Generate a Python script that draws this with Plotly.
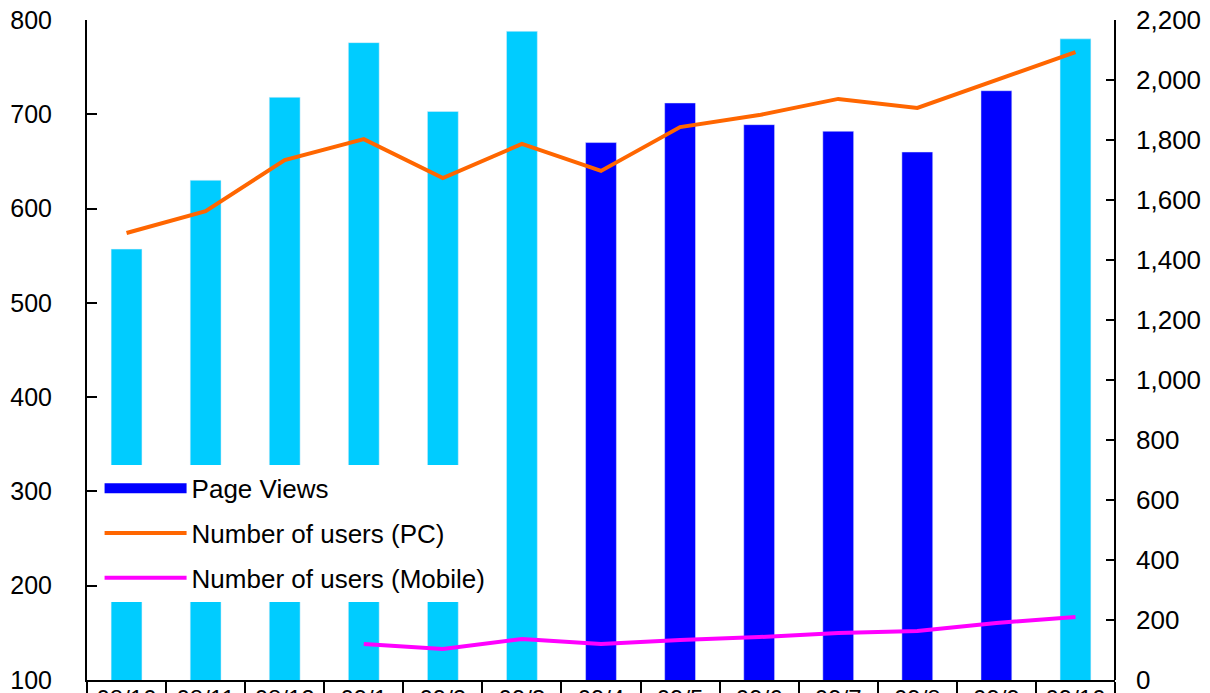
import plotly.graph_objects as go

months = ["08/10", "08/11", "08/12", "09/1", "09/2", "09/3", "09/4",
          "09/5", "09/6", "09/7", "09/8", "09/9", "09/10"]
page_views = [557, 630, 718, 776, 703, 788, 670, 712, 689, 682, 660, 725, 780]
highlight = [False, False, False, False, False, False, True, True, True, True, True, True, False]
users_pc = [1490, 1563, 1733, 1803, 1673, 1787, 1697, 1843, 1883, 1937, 1907, 2000, 2093]
users_mobile = [None, None, None, 120, 103, 137, 120, 133, 143, 157, 163, 190, 210]

CYAN = "#00CCFF"
BLUE = "#0000FF"
FONT = "Liberation Sans, Arial, sans-serif"
DOM = 0.98092

pv_blue = [v if h else None for v, h in zip(page_views, highlight)]
pv_cyan = [None if h else v for v, h in zip(page_views, highlight)]

fig = go.Figure()
fig.add_trace(go.Bar(x=months, y=pv_cyan, marker_color=CYAN, width=0.39,
                     showlegend=False, yaxis="y"))
fig.add_trace(go.Bar(x=months, y=pv_blue, marker_color=BLUE, width=0.39,
                     showlegend=False, yaxis="y"))
# legend entry for the bars (wide blue swatch)
fig.add_trace(go.Scatter(x=[None], y=[None], mode="lines", name="Page Views",
                         line=dict(color=BLUE, width=14), legendgroup="a", yaxis="y"))
fig.add_trace(go.Scatter(x=months, y=users_pc, mode="lines", name="Number of users (PC)",
                         line=dict(color="#FF6600", width=4), legendgroup="b", yaxis="y2"))
fig.add_trace(go.Scatter(x=months, y=users_mobile, mode="lines", name="Number of users (Mobile)",
                         line=dict(color="#FF00FF", width=4), legendgroup="c", yaxis="y2",
                         connectgaps=False))
# invisible trace so the right-hand label axis is drawn
fig.add_trace(go.Scatter(x=[None], y=[None], mode="lines", showlegend=False,
                         hoverinfo="skip", yaxis="y3"))

fig.update_layout(
    width=1210, height=693,
    margin=dict(l=79, r=83, t=12, b=21),
    plot_bgcolor="white", paper_bgcolor="white",
    font=dict(family=FONT, size=25, color="black"),
    barmode="overlay",
    showlegend=True,
    legend=dict(x=0.012, y=0.326, xanchor="left", yanchor="top",
                bgcolor="white", borderwidth=0, traceorder="grouped",
                tracegroupgap=8, itemwidth=82,
                font=dict(family=FONT, size=26, color="black")),
    xaxis=dict(type="category", domain=[0, DOM], showline=True, linecolor="black",
               linewidth=2, ticks="outside", tickson="boundaries", ticklen=20,
               tickwidth=2, tickcolor="black", showgrid=False, ticklabelstandoff=-4,
               tickfont=dict(size=24), automargin=False),
    yaxis=dict(range=[100, 800], dtick=100, showline=True, linecolor="black",
               linewidth=2, ticks="inside", ticklen=10, tickwidth=2,
               tickcolor="black", showgrid=False, zeroline=False,
               ticklabelstandoff=28, automargin=False, ticklabeloverflow="allow"),
    yaxis2=dict(range=[0, 2200], dtick=200, overlaying="y", side="right",
                anchor="free", position=DOM,
                showline=True, linecolor="black", linewidth=2, ticks="inside",
                ticklen=8, tickwidth=2, tickcolor="black", showgrid=False,
                zeroline=False, showticklabels=False, automargin=False),
    yaxis3=dict(range=[0, 2200], dtick=200, overlaying="y", side="right",
                anchor="free", position=1.0, showline=False, ticks="",
                showgrid=False, zeroline=False, tickformat=",d",
                tickfont=dict(size=26), automargin=False,
                ticklabeloverflow="allow"),
)

fig.write_html("out.html")
